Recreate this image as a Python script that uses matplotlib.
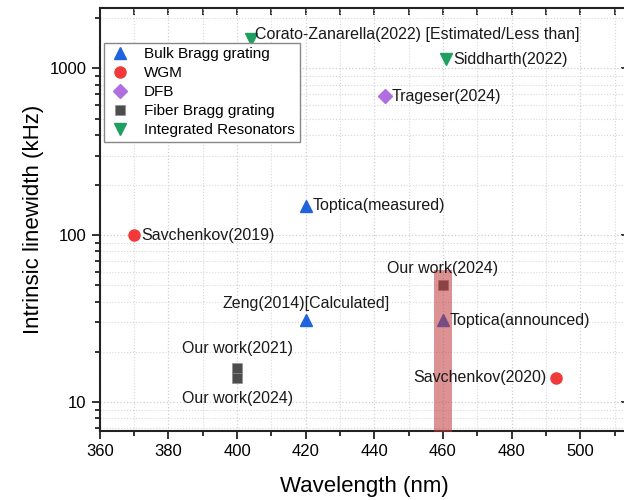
import matplotlib
matplotlib.use("Agg")
import matplotlib.pyplot as plt
from matplotlib.ticker import FixedLocator, LogLocator, NullFormatter, MultipleLocator

plt.rcParams['font.family'] = ['Liberation Sans', 'DejaVu Sans']

# ---- data ----
bulk_x = [420, 420, 460]
bulk_y = [150, 31, 31]
bulk_labels = ["Toptica(measured)", "Zeng(2014)[Calculated]", "Toptica(announced)"]

wgm_x = [370, 493]
wgm_y = [100, 14]
wgm_labels = ["Savchenkov(2019)", "Savchenkov(2020)"]

dfb_x = [443]
dfb_y = [680]
dfb_labels = ["Trageser(2024)"]

fbg_x = [400, 400, 460]
fbg_y = [16, 14, 50]
fbg_labels = ["Our work(2021)", "Our work(2024)", "Our work(2024)"]

ir_x = [404, 461]
ir_y = [1500, 1130]
ir_labels = ["Corato-Zanarella(2022) [Estimated/Less than]", "Siddharth(2022)"]

band_center = 460
band_halfwidth = 2.5
band_top = 62

fig = plt.figure(figsize=(6.24, 5.0), dpi=100)
ax = fig.add_axes([0.160, 0.138, 0.848, 0.846])

ms = 8.5
ax.plot(bulk_x, bulk_y, ls='none', marker='^', color='#1f64dc', ms=ms, label='Bulk Bragg grating', zorder=3)
ax.plot(wgm_x, wgm_y, ls='none', marker='o', color='#f03a3a', ms=ms-0.5, label='WGM', zorder=3)
ax.plot(dfb_x, dfb_y, ls='none', marker='D', color='#b06ee0', ms=ms-1.5, label='DFB', zorder=3)
ax.plot(fbg_x, fbg_y, ls='none', marker='s', color='#4d4d4d', ms=6.8, mec='#8a8a8a', mew=0.4,
        label='Fiber Bragg grating', zorder=3)
ax.plot(ir_x, ir_y, ls='none', marker='v', color='#1fa060', ms=ms, label='Integrated Resonators', zorder=3)

# highlight band
ax.fill_between([band_center - band_halfwidth, band_center + band_halfwidth], 1, band_top,
                color='#c0393b', alpha=0.55, lw=0, zorder=4)

fs = 11.5
def lab(x, y, s, dx, dy, ha='left', va='center'):
    ax.annotate(s, (x, y), xytext=(dx, dy), textcoords='offset points',
                ha=ha, va=va, fontsize=fs, color='#1a1a1a', zorder=5)

lab(bulk_x[0], bulk_y[0], bulk_labels[0], 5, 0)
lab(bulk_x[1], bulk_y[1], bulk_labels[1], 0, 12, ha='center')
lab(bulk_x[2], bulk_y[2], bulk_labels[2], 5, 0)
lab(wgm_x[0], wgm_y[0], wgm_labels[0], 5, 0)
lab(wgm_x[1], wgm_y[1], wgm_labels[1], -7, 0, ha='right')
lab(dfb_x[0], dfb_y[0], dfb_labels[0], 5, 0)
lab(fbg_x[0], fbg_y[0], fbg_labels[0], 0, 14, ha='center')
lab(fbg_x[1], fbg_y[1], fbg_labels[1], 0, -15, ha='center')
lab(fbg_x[2], fbg_y[2], fbg_labels[2], 0, 12, ha='center')
lab(ir_x[0], ir_y[0], ir_labels[0], 3, 3)
lab(ir_x[1], ir_y[1], ir_labels[1], 5, 0)

ax.set_yscale('log')
ax.set_xlim(360, 514.2)
ax.set_ylim(6.7, 2300)

ax.xaxis.set_major_locator(MultipleLocator(20))
ax.xaxis.set_minor_locator(MultipleLocator(10))
ax.yaxis.set_major_locator(FixedLocator([10, 100, 1000]))
ax.yaxis.set_minor_locator(LogLocator(base=10, subs=range(2, 10)))
ax.yaxis.set_minor_formatter(NullFormatter())
ax.yaxis.set_major_formatter(matplotlib.ticker.FuncFormatter(lambda v, p: f"{int(v)}"))

ax.grid(True, which='major', axis='both', color='#d0d0d0', ls=':', lw=0.9)
ax.grid(True, which='minor', axis='both', color='#d8d8d8', ls=':', lw=0.8)
ax.set_axisbelow(True)

ax.tick_params(which='both', direction='out', labelsize=12, width=1.3, color='#222222')
ax.tick_params(which='major', length=6)
ax.tick_params(which='minor', length=3.5)

# mirrored inward ticks on top and right
secx = ax.secondary_xaxis('top')
secx.xaxis.set_major_locator(MultipleLocator(10))
secx.tick_params(direction='in', length=5, width=1.3, labeltop=False, color='#222222')
secx.spines['top'].set_visible(False)
secy = ax.secondary_yaxis('right')
secy.yaxis.set_major_locator(FixedLocator([10, 100, 1000]))
secy.yaxis.set_minor_locator(LogLocator(base=10, subs=range(2, 10)))
secy.tick_params(which='both', direction='in', labelright=False, width=1.3, color='#222222')
secy.tick_params(which='major', length=6)
secy.tick_params(which='minor', length=3.5)
secy.yaxis.set_minor_formatter(NullFormatter())

for sp in ax.spines.values():
    sp.set_linewidth(1.5)
    sp.set_color('#222222')

ax.set_xlabel('Wavelength (nm)', fontsize=16, labelpad=12)
ax.set_ylabel('Intrinsic linewidth (kHz)', fontsize=16, labelpad=4)

leg = ax.legend(loc='upper left', bbox_to_anchor=(0.003, 0.925), fontsize=11, frameon=True,
                fancybox=False, edgecolor='#888888', framealpha=1, handletextpad=0.9,
                borderpad=0.3, labelspacing=0.32, handlelength=1.4, borderaxespad=0.2)
leg.get_frame().set_linewidth(1.0)

fig.savefig('out.png', dpi=100)
